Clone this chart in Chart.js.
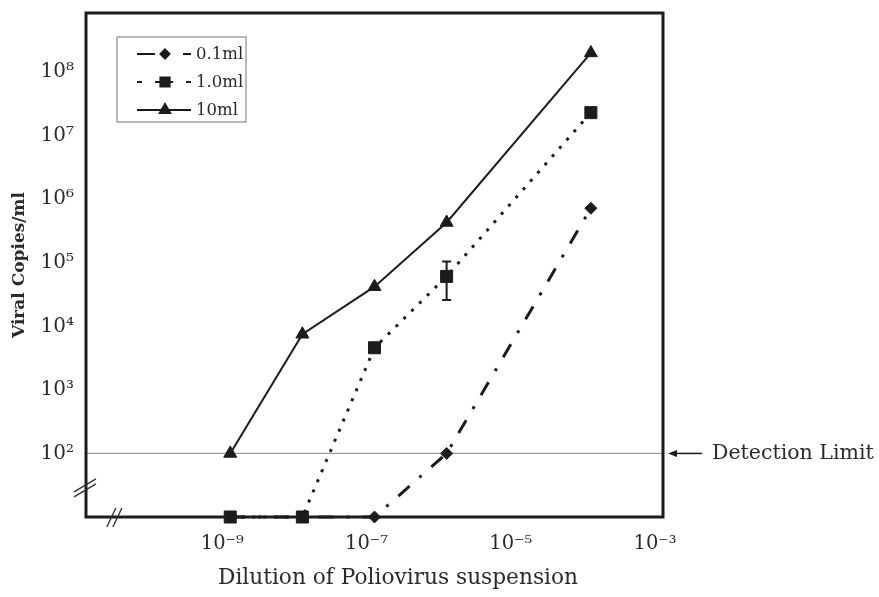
<!DOCTYPE html>
<html>
<head>
<meta charset="utf-8">
<script src="https://cdn.jsdelivr.net/npm/chart.js@4.4.1/dist/chart.umd.min.js"></script>
<style>
  html, body { margin: 0; padding: 0; background: #ffffff; }
  #wrap { width: 879px; height: 597px; position: relative; }
</style>
</head>
<body>
<div id="wrap"><canvas id="c"></canvas></div>
<script>
// Dilution steps of the poliovirus suspension
const dilutions = [1e-9, 1e-8, 1e-7, 1e-6, 1e-4];
const seriesNames = ['0.1ml', '1.0ml', '10ml'];
// Viral copies/ml for each sample volume (values below detection sit on the axis floor)
const copies01ml = [10, 10, 10, 100, 7.2e5];
const copies1ml = [10, 10, 4.6e3, 6.1e4, 2.3e7];
const copies10ml = [100, 7.5e3, 4.2e4, 4.3e5, 2.0e8];
// Error range on the 1.0ml series
const err1mlLow = [null, null, null, 2.6e4, null];
const err1mlHigh = [null, null, null, 1.05e5, null];
const detectionLimit = 100;
const xTickValues = [1e-9, 1e-7, 1e-5, 1e-3];
const xTickLabels = ['10⁻⁹', '10⁻⁷', '10⁻⁵', '10⁻³'];
const yTickValues = [1e2, 1e3, 1e4, 1e5, 1e6, 1e7, 1e8];
const yTickLabels = ['10²', '10³', '10⁴', '10⁵', '10⁶', '10⁷', '10⁸'];

const INK = '#1c1c1c';
const TEXT = '#2b2b2b';
const SERIF = '"DejaVu Serif", "Liberation Serif", serif';

const toPoints = arr => dilutions.map((d, i) => ({ x: d, y: arr[i] }));

const styles = [
  { dash: [15, 13, 3, 13], width: 3, point: 'rectRot', r: 6, lr: 4.5, legendDash: [18, 28, 8] },
  { dash: [3, 8], width: 3, point: 'rect', r: 8.5, lr: 6.5, legendDash: [5, 13, 18, 13, 5] },
  { dash: [], width: 2, point: 'triangle', r: 7.5, lr: 6, legendDash: [] }
];
const seriesData = [copies01ml, copies1ml, copies10ml];

const datasets = seriesNames.map((name, k) => ({
  label: name,
  data: toPoints(seriesData[k]),
  borderColor: INK,
  backgroundColor: INK,
  borderWidth: styles[k].width,
  borderDash: styles[k].dash,
  pointStyle: styles[k].point,
  pointRadius: styles[k].r,
  pointHoverRadius: styles[k].r,
  pointBorderWidth: 1,
  pointBackgroundColor: INK,
  pointBorderColor: INK,
  tension: 0,
  clip: false
}));

const decor = {
  id: 'decor',
  beforeDatasetsDraw(chart) {
    const { ctx, chartArea: a, scales } = chart;
    const y = scales.y.getPixelForValue(detectionLimit);
    ctx.save();
    ctx.strokeStyle = '#9a9a9a';
    ctx.lineWidth = 1.2;
    ctx.beginPath();
    ctx.moveTo(a.left, y);
    ctx.lineTo(a.right, y);
    ctx.stroke();
    ctx.restore();
  },
  afterDatasetsDraw(chart) {
    const { ctx, chartArea: a, scales } = chart;
    const sx = scales.x, sy = scales.y;
    ctx.save();

    // error bar on the 1.0ml series
    ctx.strokeStyle = INK;
    ctx.lineWidth = 2;
    dilutions.forEach((d, i) => {
      if (err1mlLow[i] == null) return;
      const px = sx.getPixelForValue(d);
      const y1 = sy.getPixelForValue(err1mlLow[i]);
      const y2 = sy.getPixelForValue(err1mlHigh[i]);
      ctx.beginPath();
      ctx.moveTo(px, y1); ctx.lineTo(px, y2);
      ctx.moveTo(px - 4.5, y1); ctx.lineTo(px + 4.5, y1);
      ctx.moveTo(px - 4.5, y2); ctx.lineTo(px + 4.5, y2);
      ctx.stroke();
    });

    // plot frame
    ctx.strokeStyle = INK;
    ctx.lineWidth = 3;
    ctx.strokeRect(a.left, a.top, a.right - a.left, a.bottom - a.top);

    // axis break marks
    ctx.lineWidth = 1.4;
    ctx.strokeStyle = '#333';
    const bx = sx.getPixelForValue(Math.pow(10, -10.6));
    for (const o of [-3, 3]) {
      ctx.beginPath();
      ctx.moveTo(bx + o - 5, a.bottom + 10);
      ctx.lineTo(bx + o + 4, a.bottom - 9);
      ctx.stroke();
    }
    const by = sy.getPixelForValue(Math.pow(10, 1.45));
    for (const o of [-2.5, 2.5]) {
      ctx.beginPath();
      ctx.moveTo(a.left - 12, by + o + 6);
      ctx.lineTo(a.left + 10, by + o - 7);
      ctx.stroke();
    }

    // detection limit pointer and label
    const dy = sy.getPixelForValue(detectionLimit);
    ctx.strokeStyle = INK;
    ctx.fillStyle = INK;
    ctx.lineWidth = 1.5;
    ctx.beginPath();
    ctx.moveTo(a.right + 12, dy);
    ctx.lineTo(a.right + 39, dy);
    ctx.stroke();
    ctx.beginPath();
    ctx.moveTo(a.right + 5, dy);
    ctx.lineTo(a.right + 14, dy - 3.5);
    ctx.lineTo(a.right + 14, dy + 3.5);
    ctx.closePath();
    ctx.fill();
    ctx.fillStyle = TEXT;
    ctx.font = '20.5px ' + SERIF;
    ctx.textAlign = 'left';
    ctx.textBaseline = 'middle';
    ctx.fillText('Detection Limit', a.right + 49, dy);

    // x axis title
    ctx.font = '21.7px ' + SERIF;
    ctx.textAlign = 'center';
    ctx.textBaseline = 'middle';
    ctx.fillText('Dilution of Poliovirus suspension', 398, 578);

    // legend box
    const lx = 117, ly = 37, lw = 129, lh = 85;
    ctx.fillStyle = '#ffffff';
    ctx.fillRect(lx, ly, lw, lh);
    ctx.strokeStyle = '#8a8a8a';
    ctx.lineWidth = 1.2;
    ctx.strokeRect(lx, ly, lw, lh);
    const rows = [54, 82, 110];
    seriesNames.forEach((name, k) => {
      const ry = rows[k];
      ctx.strokeStyle = INK;
      ctx.lineWidth = 2;
      ctx.setLineDash(styles[k].legendDash);
      ctx.beginPath();
      ctx.moveTo(137, ry);
      ctx.lineTo(191, ry);
      ctx.stroke();
      ctx.setLineDash([]);
      ctx.fillStyle = INK;
      Chart.helpers.drawPoint(ctx, {
        pointStyle: styles[k].point, radius: styles[k].lr, rotation: 0, borderWidth: 1
      }, 165, ry);
      ctx.fillStyle = TEXT;
      ctx.font = '16.5px ' + SERIF;
      ctx.textAlign = 'left';
      ctx.textBaseline = 'middle';
      ctx.fillText(name, 196, ry + 1);
    });
    ctx.restore();
  }
};

new Chart(document.getElementById('c'), {
  type: 'line',
  data: { datasets },
  options: {
    responsive: true,
    maintainAspectRatio: false,
    animation: false,
    events: [],
    layout: { padding: { left: 0, right: 216, top: 13, bottom: 0 } },
    plugins: { legend: { display: false }, tooltip: { enabled: false } },
    scales: {
      x: {
        type: 'logarithmic',
        min: 1e-11,
        max: 1e-3,
        grid: { display: false, drawTicks: false },
        border: { display: false },
        afterBuildTicks: s => { s.ticks = xTickValues.map(v => ({ value: v })); },
        afterFit: s => { s.height = 80; s.paddingLeft = 0; s.paddingRight = 0; },
        ticks: {
          autoSkip: false,
          maxRotation: 0,
          padding: 15,
          labelOffset: -8,
          color: TEXT,
          font: { family: SERIF, size: 19.5 },
          callback: (v, i) => xTickLabels[i]
        }
      },
      y: {
        type: 'logarithmic',
        min: 10,
        max: 8.5e8,
        grid: { display: false, drawTicks: false },
        border: { display: false },
        afterBuildTicks: s => { s.ticks = yTickValues.map(v => ({ value: v })); },
        afterFit: s => { s.width = 86; s.paddingTop = 0; s.paddingBottom = 0; },
        ticks: {
          autoSkip: false,
          padding: 12,
          color: TEXT,
          font: { family: SERIF, size: 20 },
          callback: (v, i) => yTickLabels[i]
        },
        title: {
          display: true,
          text: 'Viral Copies/ml',
          color: TEXT,
          font: { family: SERIF, size: 17, weight: 'bold' },
          padding: { top: 9, bottom: 0 }
        }
      }
    }
  },
  plugins: [decor]
});
</script>
</body>
</html>
